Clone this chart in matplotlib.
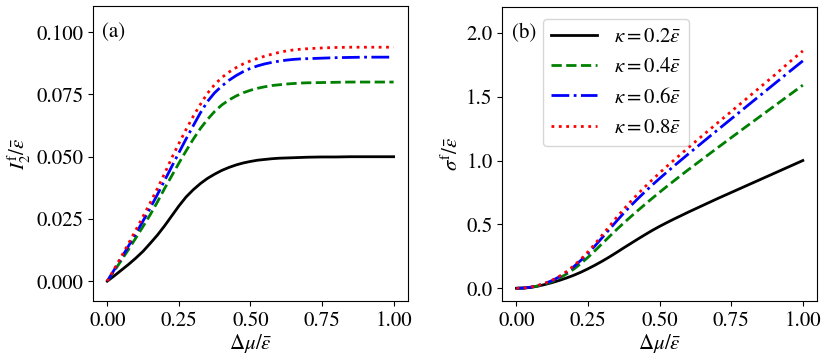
import numpy as np
import matplotlib
matplotlib.use('Agg')
import matplotlib.pyplot as plt

plt.rcParams['font.family'] = ['STIXGeneral', 'Liberation Serif', 'DejaVu Serif']
plt.rcParams['mathtext.fontset'] = 'stix'
plt.rcParams['font.size'] = 15

# detuning grid (finer where the curves bend)
dmu = [0.000, 0.025, 0.050, 0.075, 0.100, 0.125, 0.150, 0.175, 0.200, 0.225,
       0.250, 0.275, 0.300, 0.325, 0.350, 0.375, 0.400, 0.425, 0.450, 0.475,
       0.500, 0.525, 0.550, 0.575, 0.600, 0.625, 0.650, 0.675, 0.700,
       0.75, 0.80, 0.85, 0.90, 0.95, 1.00]

kappa_labels = [r'$\kappa=0.2\bar{\varepsilon}$', r'$\kappa=0.4\bar{\varepsilon}$',
                r'$\kappa=0.6\bar{\varepsilon}$', r'$\kappa=0.8\bar{\varepsilon}$']

# panel (a): current I_2^f / eps
I_k02 = [0, 0.0022, 0.0045, 0.0068, 0.0093, 0.0120, 0.0152, 0.0185, 0.0222, 0.0262,
         0.0302, 0.0338, 0.0367, 0.0392, 0.0413, 0.0430, 0.0445, 0.0457, 0.0467, 0.0475,
         0.0481, 0.0486, 0.0489, 0.0492, 0.0494, 0.0495, 0.0496, 0.0497, 0.0498,
         0.0499, 0.0499, 0.0500, 0.0500, 0.0500, 0.0500]
I_k04 = [0, 0.0042, 0.0085, 0.0129, 0.0174, 0.0220, 0.0267, 0.0318, 0.0372, 0.0423,
         0.0474, 0.0523, 0.0570, 0.0613, 0.0650, 0.0682, 0.0708, 0.0728, 0.0744, 0.0757,
         0.0767, 0.0775, 0.0781, 0.0786, 0.0789, 0.0792, 0.0794, 0.0796, 0.0797,
         0.0798, 0.0799, 0.0800, 0.0800, 0.0800, 0.0800]
I_k06 = [0, 0.0047, 0.0095, 0.0143, 0.0192, 0.0242, 0.0294, 0.0348, 0.0404, 0.0460,
         0.0516, 0.0571, 0.0624, 0.0676, 0.0722, 0.0757, 0.0784, 0.0807, 0.0826, 0.0842,
         0.0855, 0.0865, 0.0873, 0.0879, 0.0884, 0.0888, 0.0891, 0.0893, 0.0894,
         0.0896, 0.0898, 0.0899, 0.0900, 0.0900, 0.0900]
I_k08 = [0, 0.0050, 0.0101, 0.0153, 0.0206, 0.0260, 0.0315, 0.0372, 0.0432, 0.0495,
         0.0553, 0.0609, 0.0662, 0.0710, 0.0755, 0.0790, 0.0818, 0.0840, 0.0858, 0.0873,
         0.0885, 0.0895, 0.0904, 0.0912, 0.0919, 0.0925, 0.0929, 0.0932, 0.0934,
         0.0937, 0.0939, 0.0940, 0.0940, 0.0940, 0.0940]

# panel (b): noise sigma^f / eps
S_k02 = [0, 0.002, 0.007, 0.017, 0.030, 0.045, 0.062, 0.081, 0.102, 0.126,
         0.153, 0.182, 0.213, 0.246, 0.281, 0.317, 0.352, 0.387, 0.421, 0.454,
         0.485, 0.514, 0.542, 0.569, 0.596, 0.622, 0.648, 0.674, 0.700,
         0.750, 0.800, 0.850, 0.900, 0.950, 1.000]
S_k04 = [0, 0.002, 0.008, 0.019, 0.034, 0.054, 0.080, 0.112, 0.150, 0.194,
         0.243, 0.296, 0.351, 0.406, 0.460, 0.512, 0.562, 0.611, 0.659, 0.706,
         0.752, 0.797, 0.841, 0.885, 0.928, 0.970, 1.012, 1.054, 1.096,
         1.179, 1.262, 1.344, 1.426, 1.508, 1.590]
S_k06 = [0, 0.002, 0.009, 0.021, 0.038, 0.061, 0.090, 0.126, 0.169, 0.219,
         0.274, 0.334, 0.398, 0.463, 0.527, 0.589, 0.648, 0.704, 0.758, 0.810,
         0.860, 0.909, 0.957, 1.004, 1.051, 1.097, 1.143, 1.189, 1.235,
         1.326, 1.417, 1.508, 1.599, 1.690, 1.780]
S_k08 = [0, 0.002, 0.010, 0.022, 0.040, 0.064, 0.094, 0.131, 0.176, 0.228,
         0.286, 0.350, 0.418, 0.487, 0.555, 0.620, 0.682, 0.741, 0.797, 0.851,
         0.903, 0.954, 1.003, 1.052, 1.100, 1.148, 1.196, 1.243, 1.290,
         1.384, 1.478, 1.572, 1.666, 1.764, 1.858]

styles = [('black', '-'), ('green', '--'), ('blue', '-.'), ('red', ':')]

fig = plt.figure(figsize=(8.3, 3.61), dpi=100)
ax1 = fig.add_axes([0.112, 0.166, 0.3795, 0.817])
ax2 = fig.add_axes([0.605, 0.166, 0.3795, 0.814])

for ys, (c, ls), lab in zip([I_k02, I_k04, I_k06, I_k08], styles, kappa_labels):
    ax1.plot(dmu, ys, color=c, linestyle=ls, lw=2, label=lab)
for ys, (c, ls), lab in zip([S_k02, S_k04, S_k06, S_k08], styles, kappa_labels):
    ax2.plot(dmu, ys, color=c, linestyle=ls, lw=2, label=lab)

ax1.set_ylim(-0.008, 0.1105)
ax1.set_yticks([0.0, 0.025, 0.05, 0.075, 0.1])
ax1.set_yticklabels(['0.000', '0.025', '0.050', '0.075', '0.100'])
ax1.set_xticks([0, 0.25, 0.5, 0.75, 1.0])
ax1.set_xticklabels(['0.00', '0.25', '0.50', '0.75', '1.00'])
ax1.set_xlabel(r'$\Delta\mu/\bar{\varepsilon}$', labelpad=1)
ax1.set_ylabel(r'$I_2^{\rm f}/\bar{\varepsilon}$', labelpad=2)
ax1.text(0.03, 0.913, '(a)', transform=ax1.transAxes, ha='left', va='center')

ax2.set_ylim(-0.1, 2.2)
ax2.set_yticks([0.0, 0.5, 1.0, 1.5, 2.0])
ax2.set_xticks([0, 0.25, 0.5, 0.75, 1.0])
ax2.set_xticklabels(['0.00', '0.25', '0.50', '0.75', '1.00'])
ax2.set_xlabel(r'$\Delta\mu/\bar{\varepsilon}$', labelpad=1)
ax2.set_ylabel(r'$\sigma^{\rm f}/\bar{\varepsilon}$', labelpad=2)
ax2.text(0.03, 0.91, '(b)', transform=ax2.transAxes, ha='left', va='center')
ax2.legend(loc='upper left', bbox_to_anchor=(0.13, 0.96), borderaxespad=0,
           handlelength=2.2, handletextpad=0.8)

fig.savefig('out.png', dpi=100)
